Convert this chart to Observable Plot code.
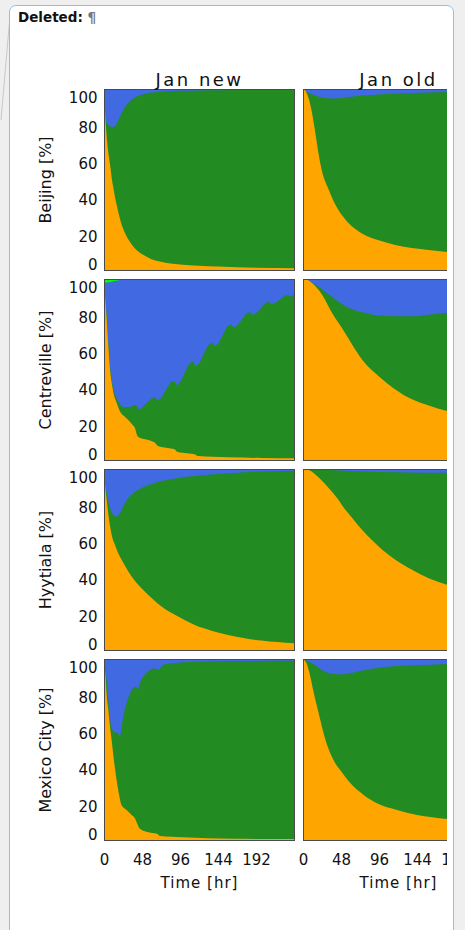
<!DOCTYPE html>
<html>
<head>
<meta charset="utf-8">
<script src="https://cdn.jsdelivr.net/npm/d3@7"></script>
<script src="https://cdn.jsdelivr.net/npm/@observablehq/plot@0.6"></script>
<style>
html,body{margin:0;padding:0;width:465px;height:930px;overflow:hidden;background:#efefef;}
#balloon{position:absolute;left:9px;top:5px;width:445px;height:960px;background:#fff;border:1.5px solid #8cc2ea;border-radius:7px;box-sizing:border-box;}
#del{position:absolute;left:18px;top:9px;font:bold 13.5px "DejaVu Sans",sans-serif;color:#111;}
#del span{color:#777;}
#conn{position:absolute;left:0;top:0;}
#clip{position:absolute;left:0;top:0;width:447px;height:930px;overflow:hidden;}
#clip svg{max-width:none !important;}
</style>
</head>
<body>
<svg id="conn" width="12" height="130"><line x1="10" y1="16" x2="1" y2="120" stroke="#c8c8c8" stroke-width="1"/></svg>
<div id="balloon"></div>
<div id="del">Deleted: <span>¶</span></div>
<div id="clip"></div>
<script>
// ---- categories ----
const sites = ["Beijing", "Centreville", "Hyytiala", "Mexico City"];
const runs = ["Jan new", "Jan old"];
const xTicks = [0, 48, 96, 144, 192];
const yTicks = [0, 20, 40, 60, 80, 100];
const xLabel = "Time [hr]";

// ---- cumulative tops [%] as [time hr, value] ----
const fullTop = [[0, 100], [240, 100]];

const beijingNewOrange = [[0,100],[1,92],[2,83],[4,71],[6,63],[8,57],[10,50],[12,45],[14,40],[16,36],[18,32],[20,28.5],[24,23],[28,19],[32,16],[38,12.5],[44,10],[50,8.3],[60,6],[72,4.6],[96,3.1],[120,2.4],[144,1.9],[192,1.3],[240,1.0]];
const beijingNewGreen  = [[0,100],[1,93],[2,85],[4,81],[6,80],[8,79.4],[10,79],[12,79],[14,79.6],[16,80.8],[18,82.5],[20,84.5],[24,88],[28,91],[32,93],[38,95],[44,96.3],[50,97.2],[60,98],[72,98.5],[96,99],[120,99.2],[144,99.3],[192,99.4],[240,99.5]];

const beijingOldOrange = [[0,100],[3,99],[7,95],[11.4,86.8],[15.6,75.7],[19.8,63.8],[24,54.6],[32.4,44.5],[40.8,36.2],[53.5,27.9],[74.5,20.2],[95.6,16.4],[116.6,13.8],[137.7,12.1],[158.7,11],[182.7,9.9],[192,9.6]];
const beijingOldGreen  = [[0,100],[4,98.8],[8,97.8],[15.6,96.4],[24,95.3],[32,94.9],[37,94.7],[45,94.9],[53,95.3],[64,95.9],[75,96.4],[96,97],[117,97.5],[138,97.8],[159,98.1],[183,98.3],[192,98.4]];

const centrevilleNewOrange = [[0,100],[1.5,90],[3.4,77.6],[5.5,63],[7.6,50],[10,42],[12,37],[16,31.6],[20,27],[22,25.7],[26,24],[30,22.4],[36,19.5],[39,17.8],[42,13.5],[45,12.3],[52,11.5],[60,10.5],[64,9.6],[68,7.7],[80,6.6],[89,5.9],[93,4.4],[105,3.7],[115,3.1],[119,2.2],[157,1.5],[200,1.1],[240,0.9]];
const centrevilleNewGreen  = [[0,100],[1.5,91],[3.4,79],[5.5,64.5],[7.6,52],[10,44],[12,39],[16,34],[20,31],[22,29.8],[26,29.3],[30,29.2],[36,29.8],[40,30.5],[44,28],[52,30.7],[64,34.5],[68,33],[88,43.8],[92,41.5],[112,54.6],[116,52],[136,64.8],[140,63],[160,74.8],[164,73.3],[184,81.6],[188,80.3],[208,87.3],[212,86.2],[232,91],[236,90.3],[240,91.5]];
const centrevilleNewBlue   = [[0,98],[5,98],[10,98.5],[15,99],[20,99.5],[30,99.8],[40,100],[240,100]];

const centrevilleOldOrange = [[0,100],[5,99.6],[11.4,97.8],[24,91.4],[36.6,81.3],[49,73],[62,63.8],[74.5,55.5],[95.6,46.3],[116.6,39],[137.7,33.5],[158.7,30.1],[182.7,27],[192,26]];
const centrevilleOldGreen  = [[0,100],[5,99.5],[15.6,96.9],[32.4,91.4],[53.5,85],[74.5,81.6],[95.6,79.8],[116.6,79.4],[137.7,79.4],[158.7,80.3],[182.7,81.3],[192,81.6]];

const hyytialaNewOrange = [[0,100],[1.5,91],[3.4,83],[5.5,75],[7.6,68.6],[10,63],[13.9,58],[18,53.5],[22.3,49.8],[30.7,43.4],[43.3,36],[56,30.4],[72.7,24],[93.7,18.5],[114.7,13.8],[135.7,10.7],[156.7,8.3],[177.8,6.5],[198.8,5.2],[240,3.7]];
const hyytialaNewGreen  = [[0,100],[1.5,92],[3.4,86.7],[5.5,82],[7.6,78.4],[11.8,74.7],[14,73.8],[16,73.8],[20,75.6],[26.5,81.2],[35,85.8],[47.5,89.5],[64.3,92.3],[93.7,95],[135.7,96.9],[177.8,98.2],[240,99.1]];

const hyytialaOldOrange = [[0,100],[8,99.3],[15.6,96.9],[24,93.5],[32.4,89.5],[43,84],[53.5,77.5],[64,72],[74.5,66.4],[95.6,57.2],[116.6,49.8],[137.7,44.3],[158.7,39.7],[182.7,36],[192,35]];
const hyytialaOldGreen  = [[0,100],[32,99.4],[74.5,98.6],[116.6,98.2],[182.7,97.9],[192,97.9]];

const mexicoNewOrange = [[0,100],[2,90],[3.4,80],[5.5,72],[7.5,63],[9.7,55],[12,46],[14,39],[16,33],[19,25],[22,19.5],[28.5,16.6],[35,13.8],[39,12],[42,9],[45,6.4],[53.7,4.6],[64,3.7],[68,3.2],[70.5,2.2],[100,1.5],[163,0.7],[240,0.5]];
const mexicoNewGreen  = [[0,100],[2.5,92],[5.5,77],[7.5,67],[9.7,62],[11.7,59.9],[14,59.5],[16,59.3],[18,58.5],[20,57],[22,61.5],[24,67.2],[28.5,75.5],[32,80],[35,82.9],[39,84.7],[41,84.5],[43,83.2],[46,87.5],[49.5,90.2],[54,92.5],[58,93.9],[64,94.8],[66,94.4],[68.4,93.9],[74.7,96.7],[87.3,97.6],[100,98.2],[121,98.5],[163,98.9],[240,99]];

const mexicoOldOrange = [[0,100],[4,98],[9.3,90.2],[13,82.5],[17.7,73.7],[22,66],[26,59],[30,53],[34.5,47.9],[40,43],[47,38.7],[60,31.3],[76.6,24.9],[93.5,20.3],[118.7,16.6],[144,13.8],[182.3,11.6],[192,11.2]];
const mexicoOldGreen  = [[0,100],[8,98.5],[17.7,95.8],[24,93.8],[30,92.6],[38,91.8],[47,91.5],[56,91.8],[68,93],[90,94.8],[110,95.8],[152,96.7],[182,97.2],[192,97.3]];

const layerNames = ["lime", "blue", "green", "orange"];
const layerColors = ["#00ff00", "#4169e1", "#228b22", "#ffa500"];

const panels = [
  {site: sites[0], run: runs[0], lime: null, blue: fullTop, green: beijingNewGreen, orange: beijingNewOrange},
  {site: sites[0], run: runs[1], lime: null, blue: fullTop, green: beijingOldGreen, orange: beijingOldOrange},
  {site: sites[1], run: runs[0], lime: fullTop, blue: centrevilleNewBlue, green: centrevilleNewGreen, orange: centrevilleNewOrange},
  {site: sites[1], run: runs[1], lime: null, blue: fullTop, green: centrevilleOldGreen, orange: centrevilleOldOrange},
  {site: sites[2], run: runs[0], lime: null, blue: fullTop, green: hyytialaNewGreen, orange: hyytialaNewOrange},
  {site: sites[2], run: runs[1], lime: null, blue: fullTop, green: hyytialaOldGreen, orange: hyytialaOldOrange},
  {site: sites[3], run: runs[0], lime: null, blue: fullTop, green: mexicoNewGreen, orange: mexicoNewOrange},
  {site: sites[3], run: runs[1], lime: null, blue: fullTop, green: mexicoOldGreen, orange: mexicoOldOrange}
];

const rows = [];
for (const p of panels) {
  for (const L of layerNames) {
    if (!p[L]) continue;
    for (const [t, v] of p[L]) rows.push({site: p.site, run: p.run, layer: L, t, v});
  }
}

const areaMarks = layerNames.map((L, i) =>
  Plot.areaY(rows.filter(d => d.layer === L), {
    x: "t", y1: 0, y2: "v", fx: "run", fy: "site",
    fill: layerColors[i], curve: "monotone-x"
  })
);

// y tick label rows for the left column of every facet row
const yTickRows = sites.flatMap(s => yTicks.map(v => ({site: s, run: runs[0], v})));

const chart = Plot.plot({
  width: 503,
  height: 900,
  marginLeft: 104,
  marginRight: 10,
  marginTop: 89,
  marginBottom: 60,
  x: {domain: [0, 240]},
  y: {domain: [0, 100], axis: null},
  fx: {domain: runs, paddingInner: 9 / 199, paddingOuter: 0, round: false, axis: null},
  fy: {domain: sites, paddingInner: 9 / 190, paddingOuter: 0, round: false, axis: null},
  style: {background: "transparent", fontFamily: "DejaVu Sans, sans-serif", color: "#111", overflow: "visible"},
  marks: [
    ...areaMarks,
    Plot.frame({stroke: "#4a4a4a", strokeWidth: 1}),
    Plot.text(yTickRows.filter(d => d.v > 0 && d.v < 100), {fx: "run", fy: "site", y: "v", text: d => String(d.v), frameAnchor: "left", textAnchor: "end", dx: -7, dy: 2.5, fontSize: 15, fill: "#111"}),
    Plot.text(yTickRows.filter(d => d.v === 100), {fx: "run", fy: "site", y: "v", text: d => String(d.v), frameAnchor: "left", textAnchor: "end", dx: -7, dy: 8.5, fontSize: 15, fill: "#111"}),
    Plot.text(yTickRows.filter(d => d.v === 0), {fx: "run", fy: "site", y: "v", text: d => String(d.v), frameAnchor: "left", textAnchor: "end", dx: -7, dy: -5.5, fontSize: 15, fill: "#111"}),
    Plot.axisX({ticks: xTicks, tickSize: 0, tickPadding: 14, fontSize: 15, label: null}),
    Plot.text(runs, {fx: d => d, fy: () => sites[0], text: d => d, frameAnchor: "top", dy: -16, fontSize: 18}),
    Plot.text(sites, {fx: () => runs[0], fy: d => d, text: d => d + " [%]", frameAnchor: "left", textAnchor: "middle", rotate: -90, dx: -59, fontSize: 16}),
    Plot.text(runs, {fx: d => d, fy: () => sites[3], text: () => xLabel, frameAnchor: "bottom", textAnchor: "middle", dy: 47, fontSize: 15})
  ]
});

d3.select(chart).selectAll("text").each(function() {
  const s = this.textContent;
  if (runs.includes(s)) this.setAttribute("letter-spacing", 2.5);
  else if (s === xLabel) this.setAttribute("letter-spacing", 1);
});

document.getElementById("clip").appendChild(chart);
</script>
</body>
</html>
